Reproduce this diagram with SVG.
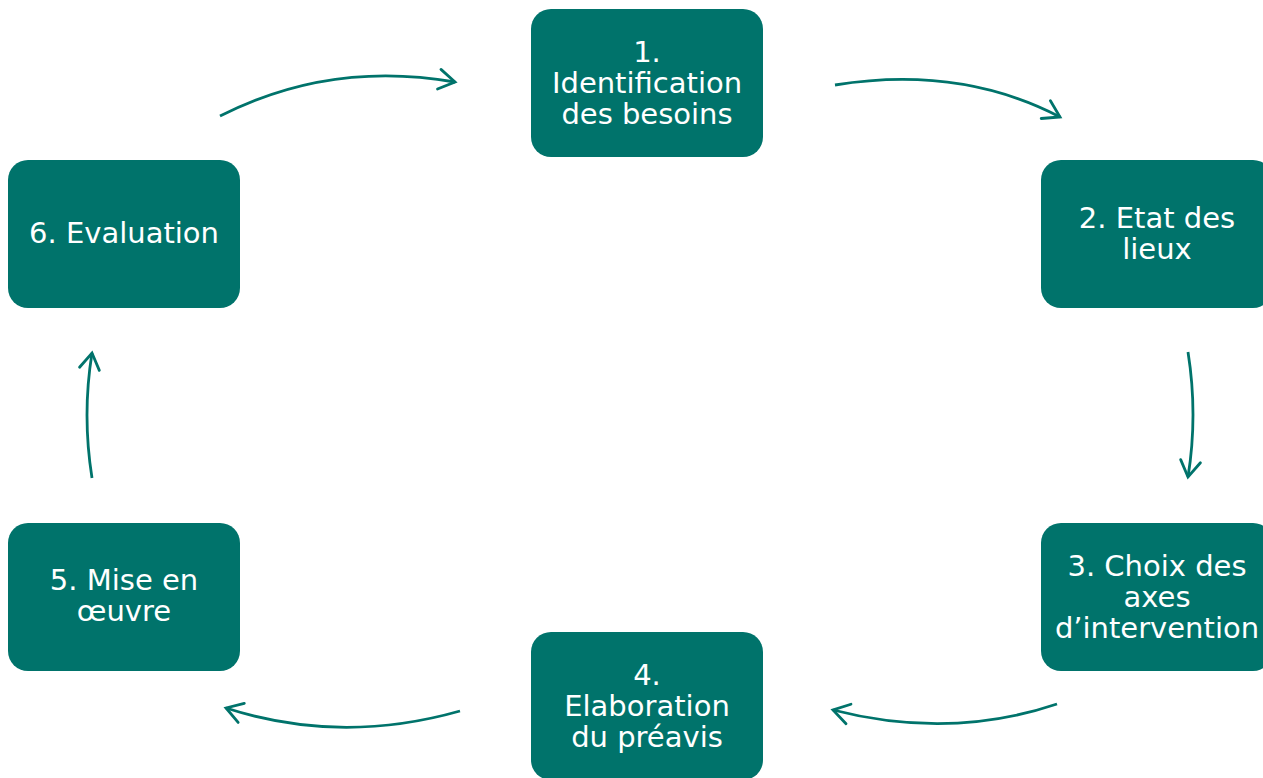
<svg xmlns="http://www.w3.org/2000/svg" width="1263" height="778" viewBox="0 0 1263 778">
<style>
.box{fill:#00736B;}
.t{font-family:"DejaVu Sans",Verdana,sans-serif;font-size:29px;fill:#FFFFFF;text-anchor:middle;}
.c{fill:none;stroke:#00736B;stroke-width:2.8;}
</style>
<defs>
<marker id="ah" markerUnits="userSpaceOnUse" markerWidth="40" markerHeight="40" viewBox="-20 -20 40 40" refX="0" refY="0" orient="auto">
<path d="M-16,-10 L0,0 L-16,10" fill="none" stroke="#00736B" stroke-width="2.8" stroke-linecap="round" stroke-linejoin="miter"/>
</marker>
</defs>
<rect width="1263" height="778" fill="#FFFFFF"/>
<g id="connectors">
<path class="c" d="M220,116 Q330,60 455,82" marker-end="url(#ah)"/>
<path class="c" d="M835,85 Q960,65 1060,117" marker-end="url(#ah)"/>
<path class="c" d="M1188,352 Q1198,415 1188,477" marker-end="url(#ah)"/>
<path class="c" d="M1057,704 Q950,740 833,710" marker-end="url(#ah)"/>
<path class="c" d="M460,711 Q340,745 226,708" marker-end="url(#ah)"/>
<path class="c" d="M92,478 Q82,415 92,353" marker-end="url(#ah)"/>
</g>
<g id="node1">
<rect class="box" x="531" y="9" width="232" height="148" rx="20"/>
<text class="t" x="647" y="62">1.</text>
<text class="t" x="647" y="93">Identification</text>
<text class="t" x="647" y="124">des besoins</text>
</g>
<g id="node2">
<rect class="box" x="1041" y="160" width="232" height="148" rx="20"/>
<text class="t" x="1157" y="228">2. Etat des</text>
<text class="t" x="1157" y="259">lieux</text>
</g>
<g id="node3">
<rect class="box" x="1041" y="523" width="232" height="148" rx="20"/>
<text class="t" x="1157" y="576">3. Choix des</text>
<text class="t" x="1157" y="607">axes</text>
<text class="t" x="1157" y="638">d’intervention</text>
</g>
<g id="node4">
<rect class="box" x="531" y="632" width="232" height="148" rx="20"/>
<text class="t" x="647" y="685">4.</text>
<text class="t" x="647" y="716">Elaboration</text>
<text class="t" x="647" y="747">du préavis</text>
</g>
<g id="node5">
<rect class="box" x="8" y="523" width="232" height="148" rx="20"/>
<text class="t" x="124" y="590">5. Mise en</text>
<text class="t" x="124" y="621">œuvre</text>
</g>
<g id="node6">
<rect class="box" x="8" y="160" width="232" height="148" rx="20"/>
<text class="t" x="124" y="243">6. Evaluation</text>
</g>
</svg>
